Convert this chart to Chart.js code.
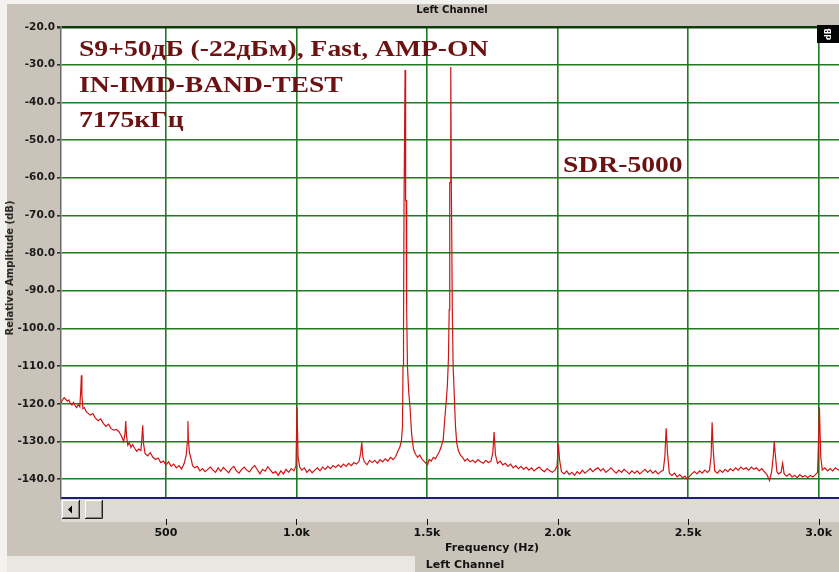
<!DOCTYPE html>
<html>
<head>
<meta charset="utf-8">
<script src="https://cdn.jsdelivr.net/npm/chart.js@4.4.1/dist/chart.umd.min.js"></script>
<style>
  html, body { margin: 0; padding: 0; background: #c9c3b9; overflow: hidden; }
  #wrap { width: 839px; height: 572px; position: relative; }
</style>
</head>
<body>
<div id="wrap"><canvas id="spectrum" width="839" height="572"></canvas></div>
<script>
// Spectrum: [frequency Hz, level dB]
const lowBand = [
  [98,-119.8],[104,-119.0],[110,-118.4],[116,-118.8],[122,-119.3],[128,-119.0],[134,-119.9],[140,-120.3],
  [146,-119.6],[152,-120.5],[158,-121.0],[164,-120.2],[170,-120.8],[174,-116.0],[176,-112.4],[178,-117.5],
  [182,-121.3],[188,-121.0],[194,-122.0],[200,-122.4],[210,-123.0],[220,-122.6],[230,-123.8],[240,-124.5],
  [250,-124.0],[260,-125.2],[270,-126.0],[280,-125.4],[290,-126.6],[300,-127.0],[310,-126.8],[320,-127.4],
  [330,-128.6],[338,-130.0],[343,-128.0],[346,-124.6],[349,-128.5],[354,-131.0],[360,-130.3],[366,-131.6],
  [372,-130.8],[380,-131.8],[388,-132.6],[396,-132.0],[404,-132.4],[408,-129.0],[411,-125.7],[414,-130.5],
  [420,-133.2],[430,-133.8],[440,-133.0],[450,-134.2],[460,-134.8],[470,-134.4],[480,-135.6],[490,-135.2],
  [500,-136.2],[510,-135.4],[520,-136.6],[530,-136.0],[540,-137.0],[550,-136.4],[560,-137.3],[570,-135.8],
  [578,-133.5],[582,-130.0],[584,-124.6],[586,-129.5],[590,-133.0],[596,-134.5],[602,-136.4],[610,-137.0],
  [620,-136.6],[630,-137.8],[640,-137.2],[650,-138.0],[660,-137.4],[670,-136.8],[680,-137.6],[690,-138.2],
  [700,-137.0],[710,-137.9],[720,-136.9],[730,-137.6],[740,-138.3],[750,-137.2],[760,-136.6],[770,-137.8],
  [780,-138.4],[790,-137.4],[800,-136.8],[810,-137.6],[820,-138.1],[830,-137.0],[840,-136.4],[850,-137.5],
  [860,-138.6],[870,-137.4],[880,-137.9],[890,-136.7],[900,-137.6],[910,-138.4],[920,-138.0],[930,-139.0],
  [940,-137.8],[950,-138.6],[960,-137.4],[970,-138.2],[980,-137.2],[990,-137.8]
];

// around the two test tones
const midBand = [
  [998,-136.5],[1002,-120.9],[1006,-134.0],[1012,-136.8],[1020,-137.6],[1030,-137.0],[1040,-138.2],[1050,-137.4],
  [1060,-138.3],[1070,-137.6],[1080,-137.0],[1090,-137.8],[1100,-136.8],[1110,-137.4],[1120,-136.6],[1130,-137.2],
  [1140,-136.4],[1150,-136.9],[1160,-136.2],[1170,-136.8],[1180,-136.0],[1190,-136.6],[1200,-135.8],[1210,-136.4],
  [1220,-135.6],[1230,-136.0],[1240,-135.2],[1246,-133.0],[1250,-130.2],[1254,-134.0],[1260,-135.4],[1270,-136.2],
  [1280,-135.0],[1290,-135.6],[1300,-135.0],[1310,-135.8],[1320,-134.8],[1330,-135.4],[1340,-134.6],[1350,-135.2],
  [1360,-134.2],[1370,-134.8],[1380,-134.0],[1388,-132.6],[1396,-131.5],[1402,-129.8],[1406,-126.0],[1408,-110.0],
  [1410,-100.0],[1412,-66.0],[1414,-66.0],[1416,-31.4],[1418,-66.0],[1420,-66.0],[1422,-95.0],[1425,-110.0],
  [1430,-117.0],[1435,-121.0],[1441,-128.0],[1448,-132.0],[1456,-133.4],[1464,-134.2],[1472,-133.6],[1480,-134.6],
  [1488,-135.2],[1496,-135.8],[1502,-136.2],[1508,-134.8],[1516,-135.2],[1524,-134.2],[1532,-134.6],[1540,-133.6],
  [1548,-132.6],[1556,-131.0],[1562,-129.5],[1568,-124.0],[1574,-119.0],[1578,-115.0],[1582,-108.0],[1585,-95.0],
  [1587,-61.3],[1589,-61.3],[1591,-30.6],[1593,-61.3],[1595,-61.3],[1597,-96.0],[1600,-110.0],[1604,-117.0],
  [1609,-126.0],[1614,-130.5],[1620,-132.4]
];

const highBand = [
  [1628,-133.6],[1636,-134.2],[1645,-135.2],[1655,-134.6],[1665,-135.4],[1675,-135.0],[1685,-135.6],[1695,-134.8],
  [1705,-135.4],[1715,-135.8],[1725,-135.0],[1735,-135.6],[1745,-135.2],[1752,-133.0],[1757,-127.5],[1762,-133.5],
  [1770,-135.8],[1780,-135.2],[1790,-136.2],[1800,-135.8],[1810,-136.6],[1820,-136.0],[1830,-137.0],[1840,-136.4],
  [1850,-137.2],[1860,-136.6],[1870,-137.4],[1880,-136.8],[1890,-137.6],[1900,-137.0],[1910,-137.8],[1920,-137.2],
  [1930,-136.8],[1940,-137.6],[1950,-138.0],[1960,-137.2],[1970,-137.8],[1980,-138.2],[1990,-137.6],[1998,-136.6],
  [2003,-130.7],[2008,-135.0],[2015,-138.0],[2025,-138.6],[2035,-137.8],[2045,-138.8],[2055,-138.2],[2065,-139.0],
  [2075,-138.0],[2085,-138.6],[2095,-137.6],[2105,-138.4],[2115,-137.8],[2125,-137.2],[2135,-138.0],[2145,-137.4],
  [2155,-137.0],[2165,-137.8],[2175,-137.2],[2185,-138.2],[2195,-137.6],[2205,-137.0],[2215,-137.8],[2225,-138.4],
  [2235,-137.6],[2245,-138.2],[2255,-137.4],[2265,-138.0],[2275,-138.6],[2285,-137.8],[2295,-138.4],[2305,-137.8],
  [2315,-138.6],[2325,-138.0],[2335,-137.4],[2345,-138.2],[2355,-137.6],[2365,-138.4],[2375,-137.8],[2385,-138.6],
  [2395,-138.0],[2405,-137.6],[2411,-134.0],[2416,-126.5],[2421,-133.0],[2428,-138.4],[2438,-139.0],[2448,-138.4],
  [2458,-139.4],[2468,-138.8],[2478,-139.6],[2488,-139.2],[2496,-140.0],[2504,-139.4],[2514,-138.6],[2524,-138.0],
  [2534,-138.6],[2544,-137.8],[2554,-138.4],[2564,-137.6],[2574,-138.2],[2582,-137.6],[2588,-134.0],[2592,-124.9],
  [2596,-132.0],[2602,-137.8],[2612,-138.4],[2622,-137.6],[2632,-138.2],[2642,-137.4],[2652,-138.0],[2662,-137.2],
  [2672,-137.8],[2682,-137.0],[2692,-137.6],[2702,-136.8],[2712,-137.4],[2722,-137.0],[2732,-137.6],[2742,-136.8],
  [2752,-137.4],[2762,-137.0],[2772,-137.8],[2782,-137.2],[2792,-138.0],[2802,-138.8],[2812,-140.4],[2820,-138.0],
  [2826,-134.0],[2830,-130.0],[2834,-133.5],[2840,-138.0],[2846,-138.6],[2856,-138.2],[2862,-135.8],[2868,-138.6],
  [2878,-139.2],[2888,-138.6],[2898,-139.4],[2908,-139.0],[2918,-139.6],[2928,-138.8],[2938,-139.4],[2948,-139.0],
  [2958,-139.6],[2968,-139.0],[2978,-139.4],[2988,-138.8],[2996,-138.2],[3003,-121.0],[3008,-134.0],[3014,-137.6],
  [3024,-137.0],[3034,-137.8],[3044,-137.2],[3054,-137.8],[3064,-137.0],[3076,-137.6],[3084,-137.2]
];

const xTickValues = [500, 1000, 1500, 2000, 2500, 3000];
const xTickLabels = ['500', '1.0k', '1.5k', '2.0k', '2.5k', '3.0k'];
const yTickValues = [-20, -30, -40, -50, -60, -70, -80, -90, -100, -110, -120, -130, -140];
const yTickLabels = ['-20.0', '-30.0', '-40.0', '-50.0', '-60.0', '-70.0', '-80.0', '-90.0',
                     '-100.0', '-110.0', '-120.0', '-130.0', '-140.0'];

const noteLines = ['S9+50дБ (-22дБм), Fast, AMP-ON', 'IN-IMD-BAND-TEST', '7175кГц'];
const radioName = 'SDR-5000';
const channelName = 'Left Channel';
const xTitle = 'Frequency (Hz)';
const yTitle = 'Relative Amplitude (dB)';

const spectrum = lowBand.concat(midBand, highBand).map(p => ({ x: p[0], y: p[1] }));

// text helper, the screenshot is a bit stretched sideways
function putText(ctx, txt, x, y, font, color, sx, align) {
    ctx.save();
    ctx.font = font;
    ctx.fillStyle = color;
    ctx.textAlign = align || 'left';
    ctx.textBaseline = 'alphabetic';
    ctx.translate(x, y);
    ctx.scale(sx, 1);
    ctx.fillText(txt, 0, 0);
    ctx.restore();
}

function bevelBox(ctx, x, y, w, h) {
    ctx.fillStyle = '#d6d3cc';
    ctx.fillRect(x, y, w, h);
    ctx.strokeStyle = '#ffffff';
    ctx.lineWidth = 1;
    ctx.beginPath();
    ctx.moveTo(x + 0.5, y + h - 1); ctx.lineTo(x + 0.5, y + 0.5); ctx.lineTo(x + w - 1, y + 0.5);
    ctx.stroke();
    ctx.strokeStyle = '#222222';
    ctx.beginPath();
    ctx.moveTo(x + w - 0.5, y); ctx.lineTo(x + w - 0.5, y + h - 0.5); ctx.lineTo(x, y + h - 0.5);
    ctx.stroke();
    ctx.strokeStyle = '#808080';
    ctx.beginPath();
    ctx.moveTo(x + w - 1.5, y + 1); ctx.lineTo(x + w - 1.5, y + h - 1.5); ctx.lineTo(x + 1, y + h - 1.5);
    ctx.stroke();
}

const analyzerLook = {
    id: 'analyzerLook',
    beforeDraw(chart) {
        const { ctx, chartArea: a } = chart;
        ctx.save();
        ctx.fillStyle = '#c9c3b9';
        ctx.fillRect(0, 0, chart.width, chart.height);
        ctx.fillStyle = '#f3f2ef';
        ctx.fillRect(0, 0, 7, chart.height);
        ctx.fillRect(0, 0, chart.width, 4);
        ctx.fillStyle = '#e9e7e2';
        ctx.fillRect(7, 556, 408, 16);
        ctx.fillStyle = '#ffffff';
        ctx.fillRect(a.left, a.top, a.right - a.left, a.bottom - a.top);
        // scrollbar track
        ctx.fillStyle = '#dedbd4';
        ctx.fillRect(a.left, a.bottom + 1, a.right - a.left, 23);
        ctx.restore();
    },
    afterDraw(chart) {
        const { ctx, chartArea: a } = chart;
        const xs = chart.scales.x;
        ctx.save();
        // scrollbar buttons
        bevelBox(ctx, a.left + 1, a.bottom + 2, 18, 19);
        ctx.fillStyle = '#000';
        ctx.beginPath();
        ctx.moveTo(a.left + 7, a.bottom + 11.5);
        ctx.lineTo(a.left + 11, a.bottom + 7.5);
        ctx.lineTo(a.left + 11, a.bottom + 15.5);
        ctx.closePath();
        ctx.fill();
        bevelBox(ctx, a.left + 24, a.bottom + 2, 18, 19);

        // small tick marks above frequency labels
        ctx.strokeStyle = '#111';
        ctx.lineWidth = 1;
        xTickValues.forEach(v => {
            const px = Math.round(xs.getPixelForValue(v)) + 0.5;
            ctx.beginPath();
            ctx.moveTo(px, a.bottom + 21);
            ctx.lineTo(px, a.bottom + 27);
            ctx.stroke();
        });

        // corner marker
        ctx.fillStyle = '#050505';
        ctx.fillRect(817, 25, 22, 18);
        ctx.save();
        ctx.translate(829, 34);
        ctx.rotate(-Math.PI / 2);
        ctx.fillStyle = '#ffffff';
        ctx.font = 'bold 8px "DejaVu Sans"';
        ctx.textAlign = 'center';
        ctx.textBaseline = 'middle';
        ctx.fillText('dB', 0, 0);
        ctx.restore();

        // titles
        putText(ctx, channelName, 452, 13, 'bold 10px "DejaVu Sans"', '#111', 1.0, 'center');
        putText(ctx, xTitle, 492, 551, 'bold 11px "DejaVu Sans"', '#111', 1.0, 'center');
        putText(ctx, channelName, 465, 568, 'bold 11px "DejaVu Sans"', '#111', 1.0, 'center');
        ctx.save();
        ctx.translate(13, 268);
        ctx.rotate(-Math.PI / 2);
        ctx.font = 'bold 10px "DejaVu Sans"';
        ctx.fillStyle = '#2a2a2a';
        ctx.textAlign = 'center';
        ctx.fillText(yTitle, 0, 0);
        ctx.restore();

        // annotations
        const serif = 'bold 24px "Liberation Serif", "Times New Roman", serif';
        const maroon = '#6c1212';
        putText(ctx, noteLines[0], 79, 56, serif, maroon, 1.15);
        putText(ctx, noteLines[1], 79, 92, serif, maroon, 1.15);
        putText(ctx, noteLines[2], 79, 127, serif, maroon, 1.15);
        putText(ctx, radioName, 563, 172, serif, maroon, 1.15);
        ctx.restore();
    }
};

const gridGreen = '#1e7b1e';

new Chart(document.getElementById('spectrum').getContext('2d'), {
    type: 'line',
    data: {
        datasets: [{
            data: spectrum,
            borderColor: '#cf1414',
            borderWidth: 1.2,
            pointRadius: 0,
            tension: 0,
            fill: false
        }]
    },
    options: {
        responsive: false,
        animation: false,
        events: [],
        layout: { padding: { top: 27, left: 0, right: 0, bottom: 0 } },
        plugins: {
            legend: { display: false },
            tooltip: { enabled: false }
        },
        scales: {
            x: {
                type: 'linear',
                min: 98,
                max: 3078,
                afterFit: s => { s.height = 74; s.paddingLeft = 0; s.paddingRight = 0; },
                afterBuildTicks: s => { s.ticks = xTickValues.map(v => ({ value: v })); },
                grid: { color: gridGreen, lineWidth: 1.6, drawTicks: false },
                border: { color: '#1b1b80', width: 2 },
                ticks: {
                    autoSkip: false,
                    maxRotation: 0,
                    padding: 29,
                    color: '#111',
                    font: { family: 'DejaVu Sans', size: 11, weight: 'bold' },
                    callback: v => xTickLabels[xTickValues.indexOf(v)]
                }
            },
            y: {
                min: -145,
                max: -20,
                afterFit: s => { s.width = 61; s.paddingTop = 0; s.paddingBottom = 0; },
                afterBuildTicks: s => { s.ticks = yTickValues.map(v => ({ value: v })); },
                grid: {
                    color: c => (c.tick && c.tick.value === -20) ? '#0b3f0b' : gridGreen,
                    lineWidth: c => (c.tick && c.tick.value === -20) ? 2.6 : 1.6,
                    tickLength: 4,
                    tickColor: '#333'
                },
                border: { color: '#6a6a6a', width: 1.5 },
                ticks: {
                    padding: 2,
                    color: '#1a1a1a',
                    font: { family: 'DejaVu Sans', size: 10.5, weight: 'bold' },
                    callback: v => yTickLabels[yTickValues.indexOf(v)]
                }
            }
        }
    },
    plugins: [analyzerLook]
});
</script>
</body>
</html>
